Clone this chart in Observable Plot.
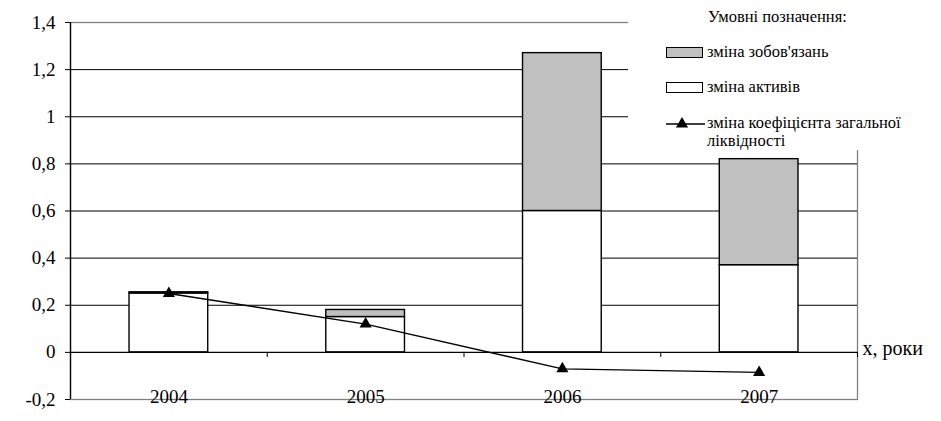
<!DOCTYPE html>
<html>
<head>
<meta charset="utf-8">
<script src="https://cdn.jsdelivr.net/npm/d3@7"></script>
<script src="https://cdn.jsdelivr.net/npm/@observablehq/plot@0.6"></script>
<style>
  html, body { margin: 0; padding: 0; background: white; }
  #wrap { position: relative; width: 941px; height: 421px; font-family: "Liberation Serif", "Times New Roman", serif; color: black; }
  #legend { position: absolute; left: 628px; top: 0; width: 313px; height: 150px; background: white; font-size: 16.5px; }
  #legend .t { position: absolute; line-height: 16px; white-space: nowrap; }
  #legend .sw { position: absolute; box-sizing: border-box; border: 1.3px solid black; }
</style>
</head>
<body>
<div id="wrap"></div>
<script>
const years = [2004, 2005, 2006, 2007];
const assets = [0.25, 0.15, 0.6, 0.37];
const liabilities = [0.005, 0.03, 0.67, 0.45];
const liquidity = [0.25, 0.12, -0.07, -0.085];
const yTicks = [-0.2, 0, 0.2, 0.4, 0.6, 0.8, 1, 1.2, 1.4];
const yTickLabels = ["-0,2", "0", "0,2", "0,4", "0,6", "0,8", "1", "1,2", "1,4"];
const seriesNames = ["зміна активів", "зміна зобов'язань", "зміна коефіцієнта загальної ліквідності"];
const legendTitle = "Умовні позначення:";
const axisLabel = "x, роки";

const FONT = '"Liberation Serif", "Times New Roman", serif';
const xDomain = [years[0] - 0.5, years[years.length - 1] + 0.5];
const yDomain = [yTicks[0], yTicks[yTicks.length - 1]];

const bars = years.flatMap((yr, i) => [
  {year: yr, series: seriesNames[0], value: assets[i]},
  {year: yr, series: seriesNames[1], value: liabilities[i]}
]);
const linePts = years.map((yr, i) => ({year: yr, value: liquidity[i]}));

const chart = Plot.plot({
  width: 941,
  height: 421,
  marginLeft: 70,
  marginRight: 84,
  marginTop: 22,
  marginBottom: 22,
  style: {fontFamily: FONT, fontSize: "19px", color: "black", background: "white"},
  x: {domain: xDomain},
  y: {domain: yDomain},
  color: {domain: seriesNames.slice(0, 2), range: ["white", "#c0c0c0"]},
  marks: [
    Plot.frame({stroke: "#808080", strokeWidth: 1.3}),
    Plot.ruleY(yTicks.filter(d => d > 0 && d < yDomain[1]), {stroke: "black", strokeWidth: 1}),
    Plot.rectY(bars, {
      x1: d => d.year - 0.2,
      x2: d => d.year + 0.2,
      y: "value",
      fill: "series",
      stroke: "black",
      strokeWidth: 1.4,
      order: seriesNames.slice(0, 2)
    }),
    Plot.ruleY([0], {stroke: "black", strokeWidth: 1.3}),
    Plot.ruleX(years.map(y => y + 0.5), {y1: 0, y2: -0.022, stroke: "black"}),
    Plot.ruleX([xDomain[0]], {y1: yDomain[0], y2: yDomain[1], stroke: "black", strokeWidth: 1.3}),
    Plot.axisY({
      ticks: yTicks,
      tickFormat: d => yTickLabels[yTicks.indexOf(d)],
      tickSize: 5,
      tickPadding: 10,
      fontSize: 19,
      label: null
    }),
    Plot.axisX({
      ticks: years,
      tickFormat: d => String(d),
      tickSize: 0,
      dy: -19,
      fontSize: 19,
      label: null
    }),
    Plot.line(linePts, {x: "year", y: "value", stroke: "black", strokeWidth: 1.4}),
    Plot.dot(linePts, {x: "year", y: "value", symbol: "triangle", r: 4.5, fill: "black", stroke: "none"}),
    Plot.text([{label: axisLabel, y: 0}], {
      text: "label", y: "y", frameAnchor: "right", dx: 5, dy: -4,
      textAnchor: "start", fontSize: 20
    })
  ]
});

const wrap = document.getElementById("wrap");
wrap.appendChild(chart);

const legend = document.createElement("div");
legend.id = "legend";
legend.innerHTML = `
  <div class="t" style="left:80px;top:9px">${legendTitle}</div>
  <div class="sw" style="left:38px;top:47px;width:37px;height:11px;background:#c0c0c0"></div>
  <div class="t" style="left:79px;top:44px">${seriesNames[1]}</div>
  <div class="sw" style="left:38px;top:82px;width:37px;height:11px;background:white"></div>
  <div class="t" style="left:79px;top:79px">${seriesNames[0]}</div>
  <svg style="position:absolute;left:38px;top:116px" width="40" height="16">
    <line x1="0" y1="8" x2="39" y2="8" stroke="black" stroke-width="1.4"></line>
    <path d="${d3.symbol(d3.symbolTriangle, 64)()}" transform="translate(16,8)" fill="black"></path>
  </svg>
  <div class="t" style="left:79px;top:115px">${seriesNames[2].split(" ").slice(0, 3).join(" ")}</div>
  <div class="t" style="left:79px;top:133px">${seriesNames[2].split(" ").slice(3).join(" ")}</div>
`;
wrap.appendChild(legend);
</script>
</body>
</html>
